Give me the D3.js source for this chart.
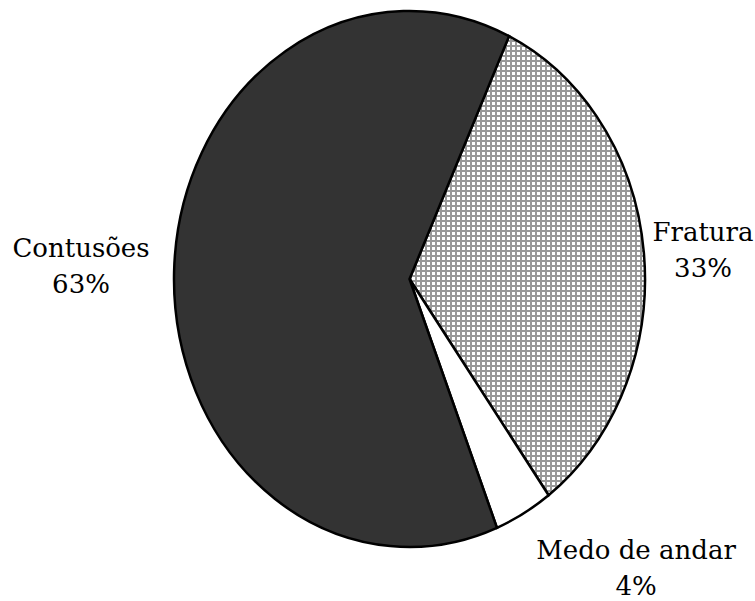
<!DOCTYPE html>
<html>
<head>
<meta charset="utf-8">
<script src="https://cdn.jsdelivr.net/npm/d3@7"></script>
<style>
  body { margin: 0; background: #fff; }
</style>
</head>
<body>
<div id="chart"></div>
<script>
// data
var labels = ["Fratura", "Medo de andar", "Contusões"];
var values = [33, 4, 63];
var pct_labels = ["33%", "4%", "63%"];

var WIDTH = 755, HEIGHT = 601;
var CX = 409.5, CY = 279, RX = 235.5, RY = 268;

const svg = d3.select("#chart").append("svg").attr("width", WIDTH).attr("height", HEIGHT)

// grid pattern for the Fratura slice
const defs = svg.append("defs")
const pat = defs.append("pattern").attr("id", "grid").attr("patternUnits", "userSpaceOnUse")
    .attr("width", 5).attr("height", 5)
pat.append("rect").attr("width", 5).attr("height", 5).attr("fill", "#fff")
pat.append("rect").attr("x", 0).attr("y", 0).attr("width", 5).attr("height", 2).attr("fill", "#999999")
pat.append("rect").attr("x", 0).attr("y", 0).attr("width", 2).attr("height", 5).attr("fill", "#999999")

var fills = ["url(#grid)", "#ffffff", "#333333"];

const pie = d3.pie().sort(null).value(d => d)
    .startAngle(25 * Math.PI / 180).endAngle(25 * Math.PI / 180 + 2 * Math.PI)
const arcs = pie(values)

// elliptical slice path (pie is stretched vertically)
function pt(a) { return [CX + RX * Math.sin(a), CY - RY * Math.cos(a)] }
function slicePath(d) {
    var p0 = pt(d.startAngle), p1 = pt(d.endAngle)
    var large = (d.endAngle - d.startAngle) > Math.PI ? 1 : 0
    return "M" + CX + "," + CY + "L" + p0[0] + "," + p0[1] +
        "A" + RX + "," + RY + " 0 " + large + " 1 " + p1[0] + "," + p1[1] + "Z"
}

svg.selectAll("path.slice").data(arcs).enter().append("path").attr("class", "slice")
    .attr("d", slicePath)
    .attr("fill", (d, i) => fills[i])
    .attr("stroke", "#000").attr("stroke-width", 2.5).attr("stroke-linejoin", "miter")

// labels
var label_pos = [[703, 241], [636, 559], [81, 257]];
var LINE = 36;
arcs.forEach((d, i) => {
    const t = svg.append("text").attr("text-anchor", "middle")
        .style("font-family", "'DejaVu Serif', serif")
        .style("font-size", "26px").attr("fill", "#000")
    t.append("tspan").attr("x", label_pos[i][0]).attr("y", label_pos[i][1]).text(labels[i])
    t.append("tspan").attr("x", label_pos[i][0]).attr("y", label_pos[i][1] + LINE).text(pct_labels[i])
})
</script>
</body>
</html>
